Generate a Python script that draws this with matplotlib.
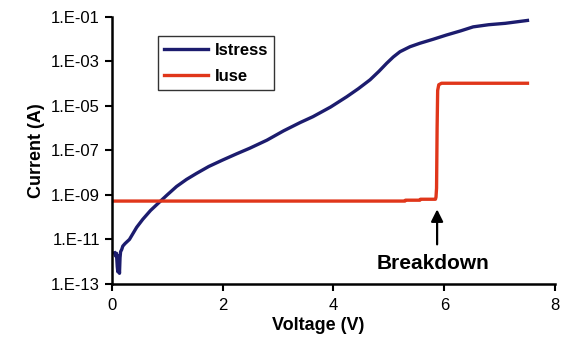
import matplotlib.pyplot as plt

plt.rcParams['font.family'] = ['Liberation Sans', 'DejaVu Sans']

# Istress sweep (V, A)
v_stress = [0.05, 0.07, 0.085, 0.10, 0.11, 0.12, 0.13, 0.14, 0.15, 0.16, 0.18, 0.20,
            0.24, 0.32, 0.45, 0.56, 0.70, 0.87, 1.00, 1.17, 1.35, 1.53, 1.75, 2.00,
            2.25, 2.49, 2.80, 3.10, 3.40, 3.63, 3.95, 4.24, 4.45, 4.66, 4.82, 4.96,
            5.08, 5.20, 5.38, 5.56, 5.80, 6.04, 6.30, 6.52, 6.80, 7.10, 7.42, 7.50]
i_stress = [2.5e-12, 1.8e-12, 2.4e-12, 6e-13, 3.5e-13, 1.8e-12, 7e-13, 3e-13, 1.5e-12, 2.8e-12, 3.5e-12, 5e-12,
            6.5e-12, 1e-11, 3.5e-11, 8e-11, 2e-10, 5e-10, 1e-9, 2.4e-9, 5e-9, 9.3e-9, 1.9e-8, 3.7e-8,
            7e-8, 1.26e-7, 2.9e-7, 7.6e-7, 1.8e-6, 3.3e-6, 9e-6, 2.6e-5, 6e-5, 1.5e-4, 3.6e-4, 8.3e-4,
            1.6e-3, 2.75e-3, 4.6e-3, 6.6e-3, 1e-2, 1.55e-2, 2.4e-2, 3.6e-2, 4.5e-2, 5.2e-2, 6.6e-2, 7e-2]

# Iuse sweep (V, A)
v_use = [0.05, 5.29, 5.30, 5.56, 5.57, 5.84, 5.85, 5.86, 5.87, 5.88, 5.90, 5.95, 7.50]
i_use = [5.3e-10, 5.3e-10, 5.8e-10, 5.8e-10, 6.4e-10, 6.4e-10, 8e-10, 2e-9, 1e-6, 5e-5, 9e-5, 1.05e-4, 1.05e-4]

y_ticks = [1e-13, 1e-11, 1e-9, 1e-7, 1e-5, 1e-3, 1e-1]
y_labels = ['1.E-13', '1.E-11', '1.E-09', '1.E-07', '1.E-05', '1.E-03', '1.E-01']
x_ticks = [0, 2, 4, 6, 8]

fig = plt.figure(figsize=(5.7, 3.4), dpi=100)
ax = fig.add_axes([0.196, 0.165, 0.778, 0.785])

ax.plot(v_stress, i_stress, color='#1c1c6e', lw=2.4, label='Istress')
ax.plot(v_use, i_use, color='#e0361a', lw=2.4, label='Iuse')

ax.set_yscale('log')
ax.set_xlim(0, 8)
ax.set_ylim(1e-13, 1e-1)
ax.set_yticks(y_ticks)
ax.set_yticklabels(y_labels)
ax.set_xticks(x_ticks)
ax.minorticks_off()
ax.tick_params(labelsize=12, width=1.5, length=5, color='black')
ax.tick_params(axis='x', pad=5)
ax.spines['top'].set_visible(False)
ax.spines['right'].set_visible(False)
ax.spines['left'].set_linewidth(1.8)
ax.spines['bottom'].set_linewidth(1.8)

ax.set_xlabel('Voltage (V)', fontsize=13, fontweight='bold', labelpad=0)
ax.xaxis.set_label_coords(0.465, -0.125)
ax.set_ylabel('Current (A)', fontsize=13, fontweight='bold', labelpad=4)

leg = ax.legend(loc='upper left', bbox_to_anchor=(0.085, 0.96), frameon=True,
                fancybox=False, edgecolor='black', handlelength=2.6,
                prop={'weight': 'bold', 'size': 12}, borderpad=0.4,
                labelspacing=0.65, handletextpad=0.4)
leg.get_frame().set_linewidth(1.0)

# breakdown marker
ax.annotate('', xy=(5.87, 3e-10), xytext=(5.87, 4.5e-12),
            arrowprops=dict(arrowstyle='-|>', color='black', lw=1.6,
                            mutation_scale=18))
ax.text(5.8, 8.5e-13, 'Breakdown', fontsize=15, fontweight='bold',
        ha='center', va='center')

fig.savefig('out.png', dpi=100)
